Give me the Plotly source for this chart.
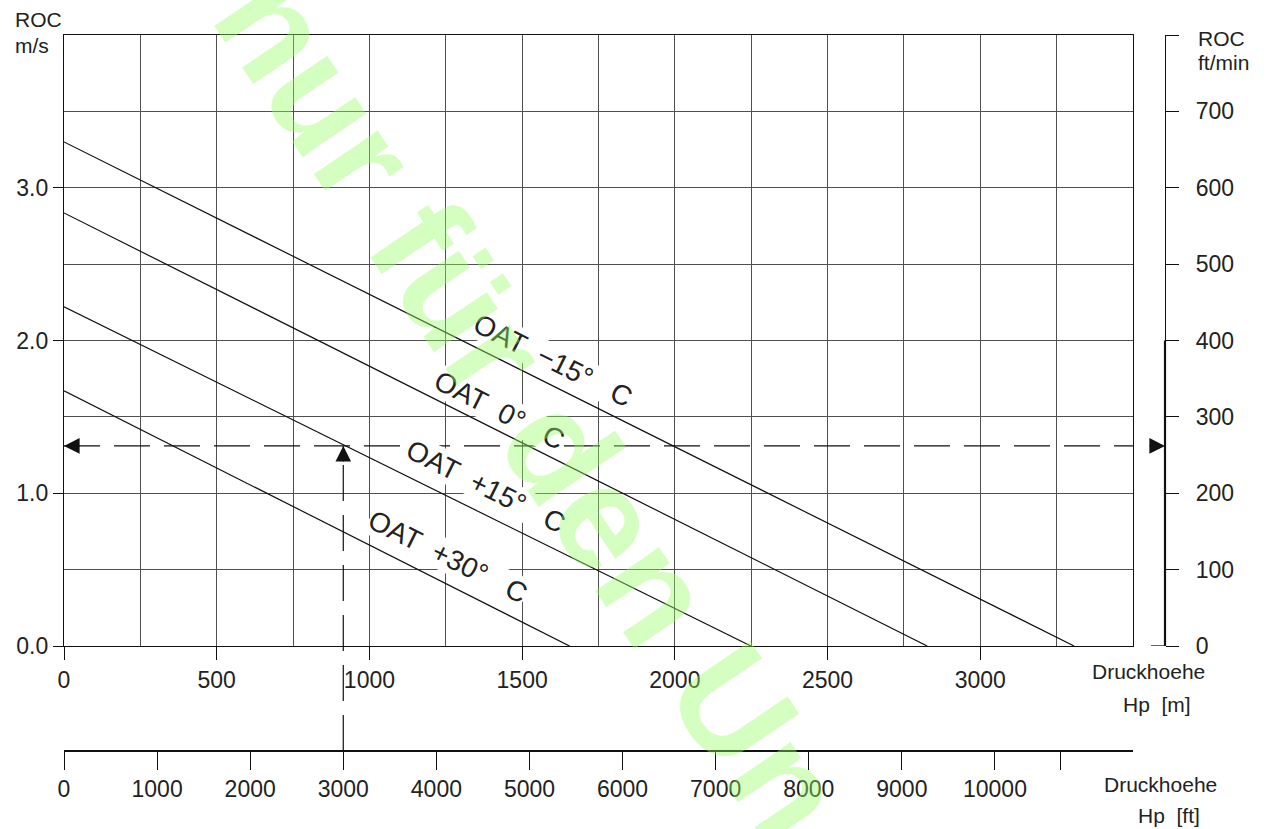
import plotly.graph_objects as go

# ---------------- data ----------------
NB = "\u00a0"
oat_labels = ["OAT" + NB * 2 + "\u221215\u00b0" + NB * 3 + "C",
              "OAT" + NB * 2 + "0\u00b0" + NB * 3 + "C",
              "OAT" + NB * 2 + "+15\u00b0" + NB * 3 + "C",
              "OAT" + NB * 2 + "+30\u00b0" + NB * 3 + "C"]
roc_at_hp0 = [3.30, 2.835, 2.22, 1.67]          # m/s at Hp = 0 m
hp_at_roc0 = [3307, 2826, 2249, 1655]           # m where ROC reaches 0

x_ticks_m = [0, 500, 1000, 1500, 2000, 2500, 3000]
x_ticks_ft = [0, 1000, 2000, 3000, 4000, 5000, 6000, 7000, 8000, 9000, 10000, 10700]
x_ticklabels_ft = ["0", "1000", "2000", "3000", "4000", "5000", "6000", "7000",
                   "8000", "9000", "10000", ""]
y_ticks_ms = [0, 1, 2, 3]
y_ticklabels_ms = ["0.0", "1.0", "2.0", "3.0"]
y_ticks_fpm = [0, 100, 200, 300, 400, 500, 600, 700, 800]
y_ticklabels_fpm = ["0", "100", "200", "300", "400", "500", "600", "700", ""]

example_hp_ft = 3000      # read-off example: pressure altitude
example_roc = 1.31        # resulting ROC (m/s)

HP_MAX_M = 3500
ROC_MAX = 4.0
FT_PER_M = 1 / 0.3048

# ---------------- layout geometry ----------------
W, H = 1285, 829
ML, MR, MT, MB = 64, 60, 35, 40
PW, PH = W - ML - MR, H - MT - MB
plot_right_px, plot_bottom_px = 1133, 646
ft_axis_px, right_axis_px = 751, 1165


def px_x(p):
    return (p - ML) / PW


def px_y(p):
    return (H - MB - p) / PH


x_dom = [0, px_x(plot_right_px)]
y_dom = [px_y(plot_bottom_px), 1]

FONT = "Liberation Sans"
INK = "#111111"
GRID = "#505050"

fig = go.Figure()

for lab, r0, h0 in zip(oat_labels, roc_at_hp0, hp_at_roc0):
    fig.add_trace(go.Scatter(x=[0, h0], y=[r0, 0], mode="lines",
                             line=dict(color=INK, width=1.2),
                             name=lab, showlegend=False, hoverinfo="skip"))

# horizontal read-off line (dashed)
fig.add_trace(go.Scatter(x=[0, HP_MAX_M], y=[example_roc, example_roc], mode="lines",
                         line=dict(color=INK, width=1.2, dash="36px,14px"),
                         showlegend=False, hoverinfo="skip"))

# invisible traces so secondary axes are drawn
fig.add_trace(go.Scatter(x=[0], y=[0], xaxis="x2", yaxis="y", mode="markers",
                         marker=dict(opacity=0), showlegend=False, hoverinfo="skip"))
fig.add_trace(go.Scatter(x=[0], y=[0], xaxis="x", yaxis="y2", mode="markers",
                         marker=dict(opacity=0), showlegend=False, hoverinfo="skip"))

tickfont = dict(family=FONT, size=23, color="#222222")

fig.update_layout(
    width=W, height=H,
    margin=dict(l=ML, r=MR, t=MT, b=MB, autoexpand=False),
    paper_bgcolor="white", plot_bgcolor="white",
    showlegend=False,
    xaxis=dict(domain=x_dom, range=[0, HP_MAX_M], tickvals=x_ticks_m,
               ticktext=[str(v) for v in x_ticks_m],
               ticks="outside", ticklen=13, tickcolor=INK, tickwidth=1,
               showline=True, linecolor=INK, linewidth=1.3, mirror=True,
               showgrid=True, gridcolor=GRID, gridwidth=1, zeroline=False,
               minor=dict(dtick=250, tick0=0, showgrid=True, gridcolor=GRID, gridwidth=1),
               tickfont=tickfont, anchor="y", automargin=False),
    yaxis=dict(domain=y_dom, range=[0, ROC_MAX], tickvals=y_ticks_ms,
               ticktext=y_ticklabels_ms,
               ticks="outside", ticklen=10, tickcolor=INK,
               showline=True, linecolor=INK, linewidth=1.3, mirror=True,
               showgrid=True, gridcolor=GRID, gridwidth=1, zeroline=False,
               minor=dict(dtick=0.5, tick0=0, showgrid=True, gridcolor=GRID, gridwidth=1),
               tickfont=tickfont, anchor="x", automargin=False),
    xaxis2=dict(overlaying="x", anchor="free", position=px_y(ft_axis_px), side="bottom",
                domain=x_dom, range=[0, HP_MAX_M * FT_PER_M],
                tickvals=x_ticks_ft, ticktext=x_ticklabels_ft,
                ticks="outside", ticklen=18, tickcolor=INK,
                showline=True, linecolor=INK, linewidth=1.6,
                showgrid=False, zeroline=False, tickfont=tickfont, automargin=False),
    yaxis2=dict(overlaying="y", anchor="free", position=px_x(right_axis_px), side="right",
                range=[0, ROC_MAX * 200], tickvals=y_ticks_fpm, ticktext=y_ticklabels_fpm,
                ticks="outside", ticklen=13, tickcolor=INK,
                showline=True, linecolor=INK, linewidth=1.3,
                showgrid=False, zeroline=False, tickfont=tickfont,
                ticklabelstandoff=12, automargin=False),
)

# vertical read-off line from the ft scale up to the ROC value
y_top_paper = y_dom[0] + example_roc / ROC_MAX * (y_dom[1] - y_dom[0])
fig.add_shape(type="line", xref="x2", yref="paper",
              x0=example_hp_ft, x1=example_hp_ft, y0=px_y(ft_axis_px), y1=y_top_paper,
              line=dict(color=INK, width=1.2, dash="36px,14px"))

# bold lower part of right axis and small tick at 0
fig.add_shape(type="line", xref="paper", yref="y",
              x0=px_x(right_axis_px), x1=px_x(right_axis_px), y0=0, y1=2.0,
              line=dict(color=INK, width=2.2))
fig.add_shape(type="line", xref="paper", yref="y",
              x0=px_x(right_axis_px - 14), x1=px_x(right_axis_px), y0=0, y1=0,
              line=dict(color=INK, width=1.3))

# arrows
arrow_common = dict(text="", showarrow=True, arrowhead=2, arrowsize=2.6, arrowwidth=1.2,
                    arrowcolor=INK, standoff=0)
fig.add_annotation(x=0, y=example_roc, xref="x", yref="y", ax=17, ay=0, **arrow_common)
fig.add_annotation(x=example_hp_ft, y=example_roc, xref="x2", yref="y", ax=0, ay=17,
                   **arrow_common)
fig.add_annotation(x=px_x(right_axis_px), y=example_roc, xref="paper", yref="y",
                   ax=-17, ay=0, **arrow_common)

# curve labels (rotated along the lines)
label_xy = [(1600, 1.866), (1426, 1.545), (1380, 1.041), (1255, 0.583)]
for lab, (lx, ly) in zip(oat_labels, label_xy):
    fig.add_annotation(x=lx, y=ly, xref="x", yref="y", text=lab, showarrow=False,
                       textangle=26.6, font=dict(family=FONT, size=28, color="#222222"),
                       bgcolor="white", borderpad=0)

# axis titles
title_font = dict(family=FONT, size=21, color="#222222")


def add_text(txt, cx, cy, anchor="center"):
    fig.add_annotation(x=px_x(cx), y=px_y(cy), xref="paper", yref="paper", text=txt,
                       showarrow=False, xanchor=anchor, yanchor="middle", font=title_font)


add_text("ROC", 13, 20, "left")
add_text("m/s", 13, 46, "left")
add_text("ROC", 1196, 38, "left")
add_text("ft/min", 1196, 62, "left")
add_text("Druckhoehe", 1148, 671)
add_text("Hp" + NB * 2 + "[m]", 1157, 704)
add_text("Druckhoehe", 1160, 784)
add_text("Hp" + NB * 2 + "[ft]", 1169, 815)

# watermark
fig.add_annotation(x=px_x(532), y=px_y(406), xref="paper", yref="paper",
                   text="nur f\u00fcr den Un", showarrow=False, textangle=56,
                   font=dict(family=FONT, size=146, color="rgba(150,255,100,0.40)",
                             weight="bold"),
                   xanchor="center", yanchor="middle")

fig.write_html("out.html", config={"displayModeBar": False},
               post_script="document.body.style.margin='0';document.body.style.overflow='hidden';")
